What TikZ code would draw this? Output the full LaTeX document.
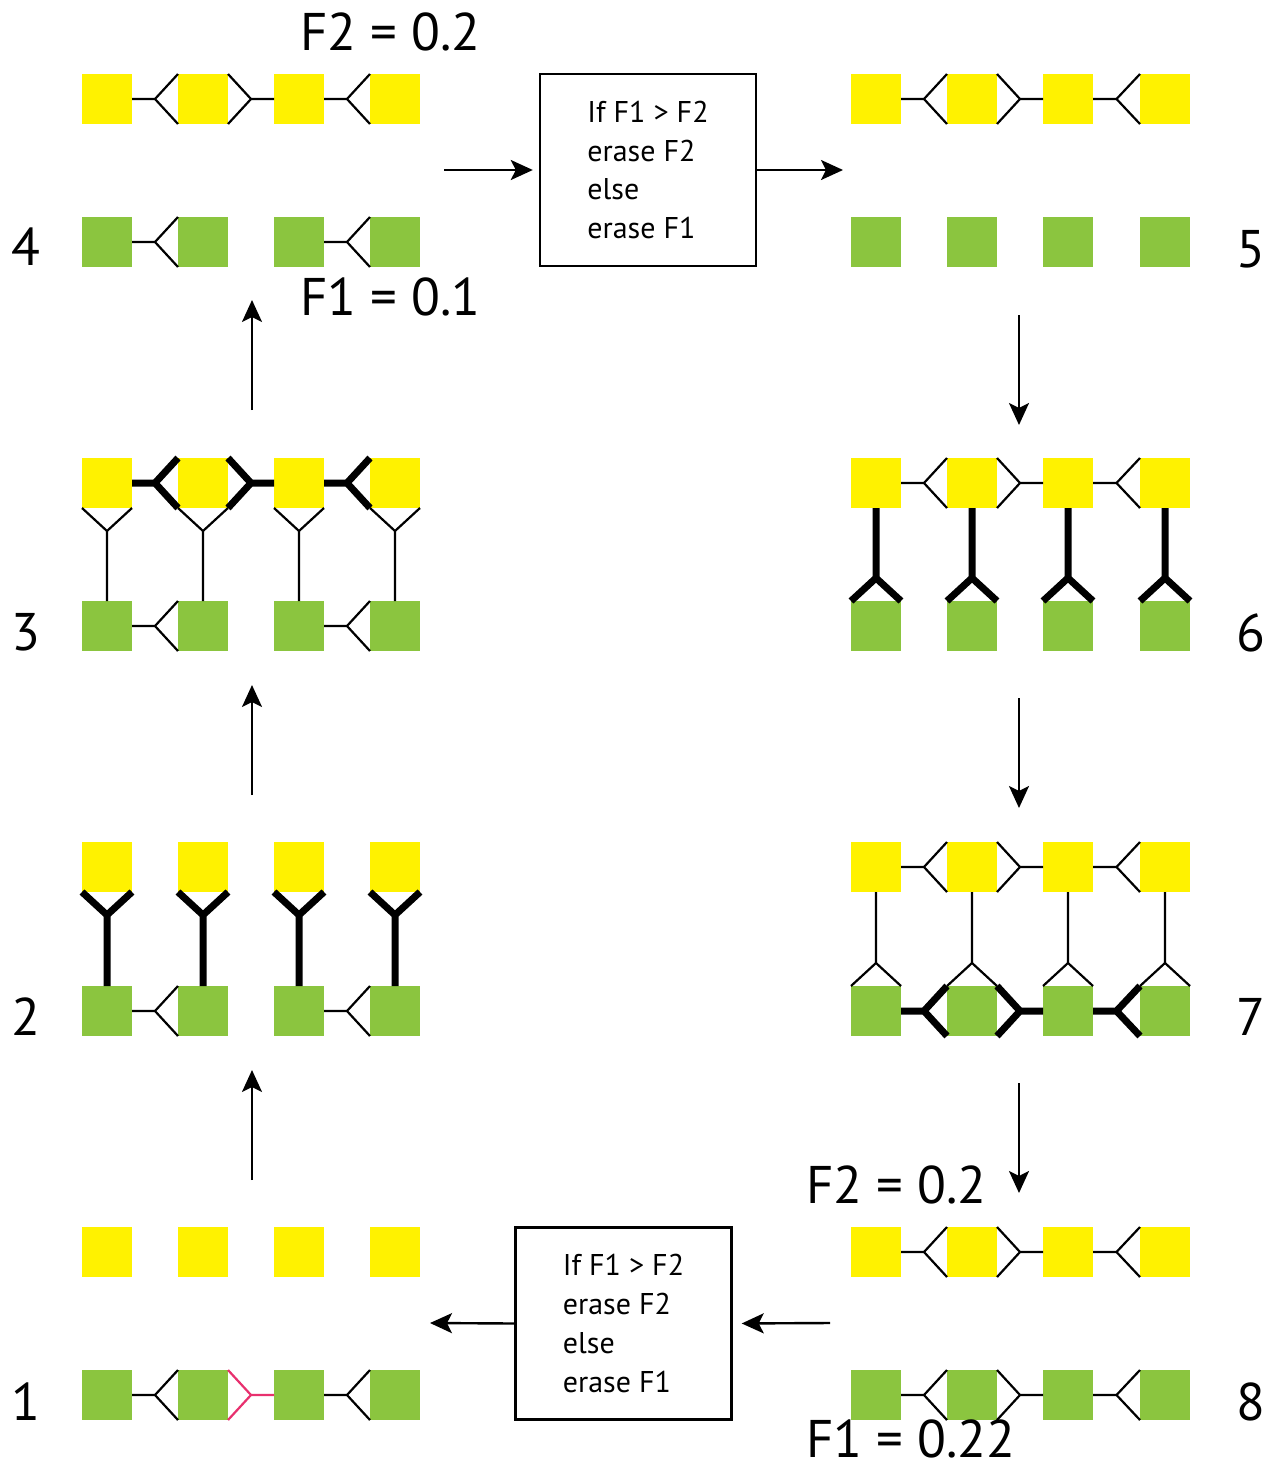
\documentclass[tikz,border=0pt]{standalone}
\usepackage{fontspec}
\setmainfont{PT Sans}
\usetikzlibrary{calc,arrows.meta}
\definecolor{yel}{RGB}{255,242,0}
\definecolor{grn}{RGB}{139,197,63}
\definecolor{pinkred}{RGB}{232,48,110}
\newcommand\sqrowL[3]{\foreach \i/\x in {1/107,2/203,3/299,4/395} {\node[#3] (#1\i) at (\x,#2) {};}}
\newcommand\sqrowR[3]{\foreach \i/\x in {1/876,2/972,3/1068,4/1165} {\node[#3] (#1\i) at (\x,#2) {};}}
% fork on second square
\newcommand\bondA[3]{\coordinate (mm) at ($(#1.east)!.5!(#2.west)$);
 \draw[#3] (#1.east) -- (mm) (#2.north west) -- (mm) -- (#2.south west);}
% fork on first square
\newcommand\bondB[3]{\coordinate (mm) at ($(#1.east)!.5!(#2.west)$);
 \draw[#3] (#1.north east) -- (mm) -- (#1.south east) (mm) -- (#2.west);}
\newcommand\fullrow[2]{\bondA{#11}{#12}{#2}\bondB{#12}{#13}{#2}\bondA{#13}{#14}{#2}}
\newcommand\halfrow[2]{\bondA{#11}{#12}{#2}\bondA{#13}{#14}{#2}}
% vertical: fork under yellow square
\newcommand\vforkTop[3]{\coordinate (mm) at ($(#1.south)+(0,23)$);
 \draw[#3] (#1.south west) -- (mm) -- (#1.south east) (mm) -- (#2.north);}
% vertical: fork above green square
\newcommand\vforkBot[3]{\coordinate (mm) at ($(#2.north)+(0,-23)$);
 \draw[#3] (#2.north west) -- (mm) -- (#2.north east) (mm) -- (#1.south);}
\tikzset{
  ysq/.style={fill=yel, minimum size=50pt, inner sep=0pt, outer sep=0pt},
  gsq/.style={fill=grn, minimum size=50pt, inner sep=0pt, outer sep=0pt},
  thinb/.style={line width=2.2pt, black, line join=miter},
  thickb/.style={line width=7pt, black, line join=miter},
  redb/.style={line width=2.2pt, pinkred, line join=miter},
  arr/.style={line width=2.4pt, -{Stealth[length=22pt,width=20pt,inset=5pt]}},
  biglabel/.style={font=\fontsize{53}{60}\selectfont, inner sep=0pt, anchor=base},
  flabel/.style={font=\fontsize{53}{60}\selectfont, inner sep=0pt, anchor=base west},
  rulebox/.style={draw, line width=2.4pt, minimum width=216pt, minimum height=192pt,
    align=left, inner sep=0pt, font=\fontsize{30}{38.7}\selectfont}
}
\begin{document}
\begin{tikzpicture}[x=1pt,y=-1pt]
\fill[white] (0,0) rectangle (1272,1470);
\useasboundingbox (0,0) rectangle (1272,1470);
% ---- squares
\sqrowL{Ay}{99}{ysq}   \sqrowL{Ag}{242}{gsq}   % panel 4
\sqrowL{By}{483}{ysq}  \sqrowL{Bg}{626}{gsq}   % panel 3
\sqrowL{Cy}{867}{ysq}  \sqrowL{Cg}{1011}{gsq}  % panel 2
\sqrowL{Dy}{1252}{ysq} \sqrowL{Dg}{1395}{gsq}  % panel 1
\sqrowR{Ey}{99}{ysq}   \sqrowR{Eg}{242}{gsq}   % panel 5
\sqrowR{Fy}{483}{ysq}  \sqrowR{Fg}{626}{gsq}   % panel 6
\sqrowR{Gy}{867}{ysq}  \sqrowR{Gg}{1011}{gsq}  % panel 7
\sqrowR{Hy}{1252}{ysq} \sqrowR{Hg}{1395}{gsq}  % panel 8
% ---- panel 4
\fullrow{Ay}{thinb}
\halfrow{Ag}{thinb}
% ---- panel 3
\fullrow{By}{thickb}
\halfrow{Bg}{thinb}
\foreach \i in {1,2,3,4} {\vforkTop{By\i}{Bg\i}{thinb}}
% ---- panel 2
\halfrow{Cg}{thinb}
\foreach \i in {1,2,3,4} {\vforkTop{Cy\i}{Cg\i}{thickb}}
% ---- panel 1
\bondA{Dg1}{Dg2}{thinb}
\bondB{Dg2}{Dg3}{redb}
\bondA{Dg3}{Dg4}{thinb}
% ---- panel 5
\fullrow{Ey}{thinb}
% ---- panel 6
\fullrow{Fy}{thinb}
\foreach \i in {1,2,3,4} {\vforkBot{Fy\i}{Fg\i}{thickb}}
% ---- panel 7
\fullrow{Gy}{thinb}
\fullrow{Gg}{thickb}
\foreach \i in {1,2,3,4} {\vforkBot{Gy\i}{Gg\i}{thinb}}
% ---- panel 8
\fullrow{Hy}{thinb}
\fullrow{Hg}{thinb}
% ---- boxes
\node[rulebox] (box1) at (648,170) {If F1 > F2\\erase F2\\else\\erase F1};
\node[rulebox] (box2) at (623.5,1323.5) {If F1 > F2\\erase F2\\else\\erase F1};
% ---- arrows
\coordinate (a1s) at (444,170);
\coordinate (a2e) at (843,170);
\draw[arr, shorten >=6pt] (a1s) -- (box1.west);
\draw[arr] (box1.east) -- (a2e);
\coordinate (r1s) at (1019,315); \coordinate (r1e) at (1019,425);
\coordinate (r2s) at (1019,698); \coordinate (r2e) at (1019,808);
\coordinate (r3s) at (1019,1083); \coordinate (r3e) at (1019,1193);
\draw[arr] (r1s) -- (r1e);
\draw[arr] (r2s) -- (r2e);
\draw[arr] (r3s) -- (r3e);
\coordinate (l1s) at (252,410); \coordinate (l1e) at (252,300);
\coordinate (l2s) at (252,795); \coordinate (l2e) at (252,685);
\coordinate (l3s) at (252,1180); \coordinate (l3e) at (252,1070);
\draw[arr] (l1s) -- (l1e);
\draw[arr] (l2s) -- (l2e);
\draw[arr] (l3s) -- (l3e);
\coordinate (b1s) at (830,1323);
\coordinate (b2e) at (430,1323);
\draw[arr, shorten >=9pt] (b1s) -- (box2.east);
\draw[arr] (box2.west) -- (b2e);
% ---- labels
\node[biglabel] (n4) at (26,265) {4};
\node[biglabel] (n3) at (26,650) {3};
\node[biglabel] (n2) at (26,1035) {2};
\node[biglabel] (n1) at (26,1420) {1};
\node[biglabel] (n5) at (1251,267) {5};
\node[biglabel] (n6) at (1251,651) {6};
\node[biglabel] (n7) at (1251,1035) {7};
\node[biglabel] (n8) at (1251,1420) {8};
\node[flabel] (f2a) at (300,50) {F2 = 0.2};
\node[flabel] (f1a) at (300,315) {F1 = 0.1};
\node[flabel] (f2b) at (806,1203) {F2 = 0.2};
\node[flabel] (f1b) at (806,1457) {F1 = 0.22};
\end{tikzpicture}
\end{document}
